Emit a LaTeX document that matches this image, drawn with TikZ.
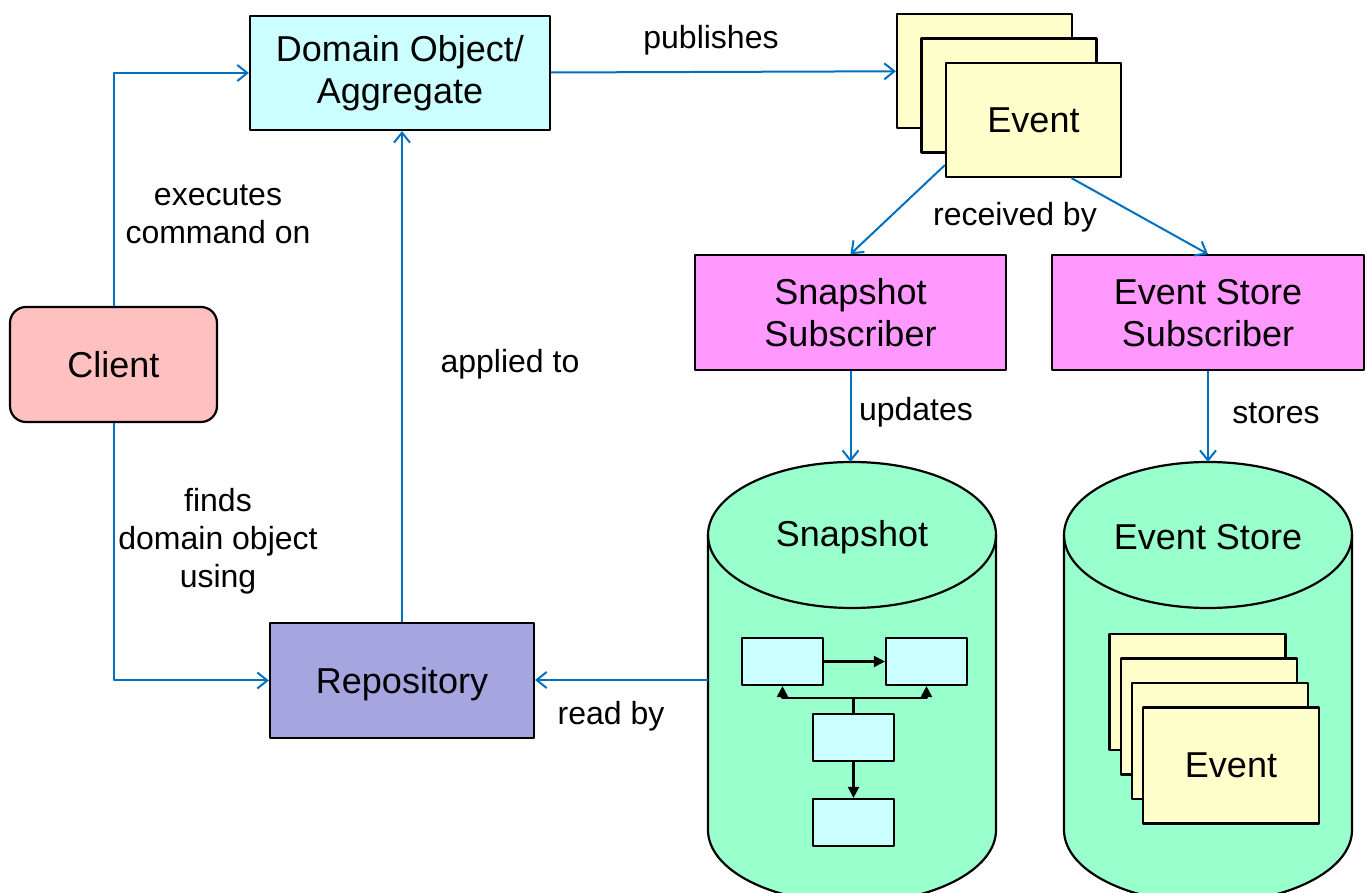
\documentclass[tikz,border=0pt]{standalone}
\usepackage{fontspec}
\setmainfont{Liberation Sans}
\usetikzlibrary{arrows.meta}
\definecolor{domaincol}{RGB}{204,255,255}
\definecolor{clientcol}{RGB}{255,192,192}
\definecolor{repocol}{RGB}{165,165,223}
\definecolor{subcol}{RGB}{255,153,255}
\definecolor{eventcol}{RGB}{255,255,204}
\definecolor{storecol}{RGB}{153,255,204}
\definecolor{flowcol}{RGB}{0,112,192}
\newcommand{\bigtext}{\fontsize{36bp}{42bp}\selectfont}
\newcommand{\labeltext}{\fontsize{32bp}{38bp}\selectfont}
\begin{document}
\begin{tikzpicture}[>={Straight Barb[length=10bp,width=16bp]},line join=bevel,
  blockbox/.style={draw,rectangle,line width=2.2bp,inner sep=0pt,align=center,font=\bigtext},
  evbox/.style={blockbox,fill=eventcol,minimum width=175bp,minimum height=114bp},
  flow/.style={->,draw=flowcol,line width=2bp},
  mini/.style={draw,rectangle,fill=domaincol,line width=2.2bp,minimum width=81bp,minimum height=47bp,inner sep=0pt},
  wire/.style={-{Triangle[length=11bp,width=11bp]},line width=2.2bp},
  lbl/.style={align=center,font=\labeltext}]
\useasboundingbox (0bp,0bp) rectangle (1367bp,893bp);
%%
\begin{scope}
  \filldraw[fill=storecol,line width=2.2bp] (708bp,358bp) -- (708bp,63bp) arc[start angle=180,end angle=360,x radius=144bp,y radius=73bp] -- (996bp,358bp) arc[start angle=0,end angle=180,x radius=144bp,y radius=73bp] -- cycle;
  \draw[line width=2.2bp] (708bp,358bp) arc[start angle=180,end angle=360,x radius=144bp,y radius=73bp];
  \draw (852bp,356bp) node[font=\bigtext] {Snapshot};
  \coordinate (snaptop) at (852bp,431bp);
  \coordinate (snapleft) at (708bp,213bp);
\end{scope}
\begin{scope}
  \filldraw[fill=storecol,line width=2.2bp] (1064bp,358bp) -- (1064bp,63bp) arc[start angle=180,end angle=360,x radius=144bp,y radius=73bp] -- (1352bp,358bp) arc[start angle=0,end angle=180,x radius=144bp,y radius=73bp] -- cycle;
  \draw[line width=2.2bp] (1064bp,358bp) arc[start angle=180,end angle=360,x radius=144bp,y radius=73bp];
  \draw (1208bp,356bp) node[font=\bigtext] {Event Store};
  \coordinate (storetop) at (1208bp,431bp);
\end{scope}
  \node (domain) at (400bp,820bp) [blockbox,fill=domaincol,minimum width=300bp,minimum height=114bp] {Domain Object/\\Aggregate};
  \node (client) at (113.5bp,528.5bp) [blockbox,fill=clientcol,rounded corners=16bp,minimum width=207bp,minimum height=115bp] {Client};
  \node (repo) at (402bp,212.5bp) [blockbox,fill=repocol,minimum width=264bp,minimum height=115bp,text depth=0pt] {Repository};
  \node (snapsub) at (850.5bp,580.25bp) [blockbox,fill=subcol,minimum width=311bp,minimum height=115bp] {Snapshot\\Subscriber};
  \node (storesub) at (1208bp,580.25bp) [blockbox,fill=subcol,minimum width=312bp,minimum height=115bp] {Event Store\\Subscriber};
  \node (ev1) at (984.5bp,822bp) [evbox] {};
  \node (ev2) at (1009bp,797.5bp) [evbox] {};
  \node (ev3) at (1033.5bp,773bp) [evbox] {Event};
%
  \node (sa) at (782.5bp,231.5bp) [mini] {};
  \node (sb) at (926.5bp,231.5bp) [mini] {};
  \node (sc) at (853.5bp,155.5bp) [mini] {};
  \node (sd) at (853.5bp,70.5bp) [mini] {};
  \draw [wire] (sa) -- (sb);
  \draw [wire] (sc.north) -- ++(0bp,15bp) -| (sa.south);
  \draw [wire] (sc.north) -- ++(0bp,15bp) -| (sb.south);
  \draw [wire] (sc) -- (sd);
%
  \foreach \k in {0,1,2}
    \node at ({1197.5bp+11.2bp*\k},{201bp-24.5bp*\k}) [evbox,minimum width=176bp,minimum height=116bp] {};
  \node (stored) at (1231bp,127.5bp) [evbox,minimum width=176bp,minimum height=116bp] {Event};
%
  \draw [flow] (client) |- (domain);
  \draw (218bp,679bp) node[lbl] {executes\\command on};
  \draw [flow] (client) |- (repo);
  \draw (218bp,351.5bp) node[lbl] {finds\\domain object\\using};
  \draw [flow] (repo.north) -- (repo.north |- domain.south);
  \draw (510bp,529bp) node[lbl] {applied to};
  \draw [flow] (domain) -- (ev1);
  \draw (711bp,853bp) node[lbl] {publishes};
  \draw [flow] ([yshift=13bp]ev3.south west) -- (snapsub.north);
  \draw [flow] ([xshift=38bp]ev3.south) -- (storesub.north);
  \draw (1015bp,676bp) node[lbl] {received by};
  \draw [flow] (snapsub.south) -- (snapsub.south |- snaptop);
  \draw (916bp,481bp) node[lbl] {updates};
  \draw [flow] (storesub.south) -- (storesub.south |- storetop);
  \draw (1276bp,480bp) node[lbl] {stores};
  \draw [flow] (snapleft) -- (snapleft -| repo.east);
  \draw (611bp,177bp) node[lbl] {read by};
%
\end{tikzpicture}
\end{document}
